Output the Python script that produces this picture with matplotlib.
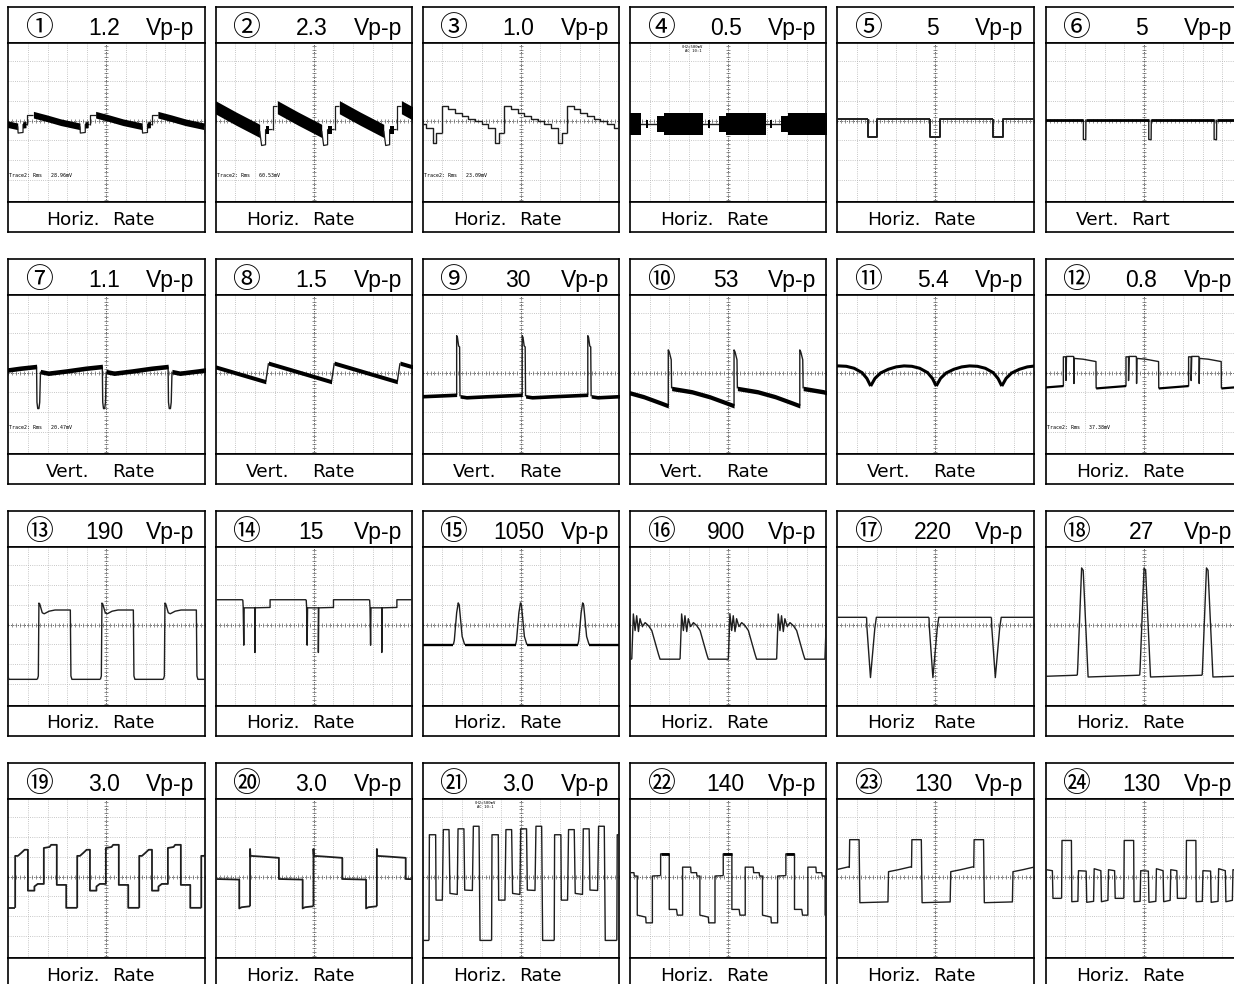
import numpy as np
import matplotlib.pyplot as plt

plt.rcParams['font.family'] = ['Liberation Sans', 'Noto Sans CJK JP', 'DejaVu Sans']

# ---- page geometry (pixels) ------------------------------------------------
FIG_W, FIG_H, DPI = 1234, 984, 100
COL_LEFT = [8.3, 215.7, 422.7, 630.0, 837.3, 1045.7]
ROW_TOP = [7, 259, 511, 763]
PANEL_W = 196.3
HEAD_H, SCOPE_H, FOOT_H = 36, 159, 30
YLIM = (-4.12, 3.93)
PX_PER_DIV = SCOPE_H / (YLIM[1] - YLIM[0])

# ---- panel captions --------------------------------------------------------
circled = ['①', '②', '③', '④', '⑤', '⑥', '⑦', '⑧', '⑨', '⑩', '⑪', '⑫',
           '⑬', '⑭', '⑮', '⑯', '⑰', '⑱', '⑲', '⑳', '㉑', '㉒', '㉓', '㉔']
vpp = ['1.2', '2.3', '1.0', '0.5', '5', '5',
       '1.1', '1.5', '30', '53', '5.4', '0.8',
       '190', '15', '1050', '900', '220', '27',
       '3.0', '3.0', '3.0', '140', '130', '130']
rate_first = ['Horiz.', 'Horiz.', 'Horiz.', 'Horiz.', 'Horiz.', 'Vert.',
              'Vert.', 'Vert.', 'Vert.', 'Vert.', 'Vert.', 'Horiz.',
              'Horiz.', 'Horiz.', 'Horiz.', 'Horiz.', 'Horiz', 'Horiz.',
              'Horiz.', 'Horiz.', 'Horiz.', 'Horiz.', 'Horiz.', 'Horiz.']
rate_second = ['Rate'] * 5 + ['Rart'] + ['Rate'] * 18
rms_notes = {0: 'Trace2: Rms   28.96mV', 1: 'Trace2: Rms   60.53mV',
             2: 'Trace2: Rms   23.09mV', 6: 'Trace2: Rms   20.47mV',
             11: 'Trace2: Rms   37.38mV'}
ch_notes = {3: 'CH2=500mV\nAC 10:1', 20: 'CH2=500mV\nAC 10:1'}

# ---- waveforms: one period each, in screen divisions -----------------------
# every stroke = (trace width pt, t within period, y); repeated every period
periods = [3.17, 3.16, 3.19, 3.17, 3.19, 3.33,
           3.35, 3.35, 3.34, 3.35, 3.34, 3.19,
           3.21, 3.23, 3.17, 2.46, 3.18, 3.18,
           3.16, 3.23, 3.19, 3.19, 3.17, 3.17]
phases = [0.97, 2.90, 0.97, 1.36, 1.55, 1.92,
          1.44, 2.55, 1.73, 1.95, 1.70, 0.90,
          1.48, 1.38, 1.56, 2.55, 1.49, 1.61,
          0.35, 1.75, 0.32, 1.56, 0.61, 0.81]

wave01 = [(0.9, [0, 0, 0.31], [-0.2, 0.31, 0.31]),
          (4.8, [0.31, 1.0, 1.7, 2.68], [0.30, 0.12, -0.08, -0.29]),
          (0.9, [2.68, 2.70, 2.95, 2.95, 3.17], [-0.29, -0.63, -0.6, -0.2, -0.2]),
          (4.5, [2.93, 3.1], [-0.22, -0.2])]
wave02 = [(0.9, [0, 0, 0.24], [-0.45, 0.76, 0.76]),
          (9.5, [0.24, 1.3, 2.5], [0.68, 0.1, -0.52]),
          (0.9, [2.5, 2.6, 2.8, 2.8, 3.16], [-0.52, -1.26, -1.22, -0.46, -0.45]),
          (6.0, [2.83, 3.0], [-0.46, -0.46])]
wave03 = [(1.0, [0, 0, 0.34, 0.34, 0.68, 0.68, 1.02, 1.02, 1.36, 1.36, 1.70, 1.70,
                 2.04, 2.04, 2.38, 2.38, 2.72, 2.72, 2.92, 2.92, 3.19],
           [-0.63, 0.76, 0.76, 0.61, 0.61, 0.39, 0.39, 0.22, 0.22, 0.10, 0.10, -0.03,
            -0.03, -0.17, -0.17, -0.37, -0.37, -1.14, -1.14, -0.63, -0.63])]
wave04 = [(1.0, [0, 3.17], [-0.17, -0.17]),
          (11.0, [0, 0.35], [-0.17, -0.17]),
          (15.5, [0.35, 2.38], [-0.17, -0.17]),
          (6.0, [2.6, 2.72], [-0.17, -0.17])]
wave05 = [(1.4, [0, 0, 0.49, 0.49, 3.19], [0.08, -0.85, -0.85, 0.08, 0.08])]
wave06 = [(1.0, [0, 0, 0.12, 0.13], [0.05, -0.95, -0.97, 0.05]),
          (2.0, [0.13, 3.33], [0.05, 0.05])]
wave07 = [(1.0, [0, 0.02, 0.06, 0.12, 0.16, 0.2], [0.31, -1.5, -1.82, -1.82, -1.5, 0.05]),
          (3.3, [0.2, 0.6, 1.5, 2.5, 3.35], [0.05, -0.03, 0.08, 0.22, 0.31])]
wave08 = [(1.0, [0, 0.14], [-0.46, 0.48]),
          (3.0, [0.14, 3.35], [0.48, -0.46])]
wave09 = [(1.0, [0, 0, 0.04, 0.1, 0.15, 0.17], [-1.12, 1.87, 1.78, 1.35, 1.3, -1.2]),
          (2.6, [0.17, 0.5, 1.5, 3.34], [-1.2, -1.25, -1.2, -1.12])]
wave10 = [(1.0, [0, 0, 0.05, 0.15, 0.17], [-1.68, 1.15, 1.05, 0.65, -0.8]),
          (3.2, [0.17, 1.2, 2.1, 2.95, 3.35], [-0.8, -0.97, -1.22, -1.53, -1.68])]
wave11 = [(2.2, [0, 0.22, 0.5, 0.9, 1.3, 1.7, 2.1, 2.5, 2.9, 3.15, 3.34],
           [-0.68, -0.29, -0.02, 0.17, 0.29, 0.34, 0.32, 0.22, 0.0, -0.3, -0.68])]
wave12 = [(1.0, [0, 0, 0.1, 0.13, 0.13, 0.16, 0.5, 0.53, 0.54, 0.56, 1.0, 1.66, 1.67],
           [-0.7, 0.8, 0.8, 0.78, -0.4, 0.82, 0.82, 0.8, -0.55, 0.72, 0.68, 0.56, -0.8]),
          (1.6, [1.67, 3.19], [-0.8, -0.68])]
wave13 = [(1.0, [0, 0.05, 0.08, 0.12, 0.25, 0.35, 0.6, 0.9, 1.68, 1.71, 1.76, 3.21],
           [-2.77, -2.6, 1.09, 1.05, 0.6, 0.55, 0.68, 0.74, 0.74, -2.6, -2.77, -2.77])]
wave14 = [(1.0, [0, 0.02, 0.05, 0.07, 0.62, 0.62, 0.64, 1.39, 1.39, 3.23],
           [1.26, 0.9, -1.04, 0.85, 0.85, -1.41, 0.85, 0.87, 1.26, 1.26])]
wave15 = [(1.0, [0, 0.05, 0.17, 0.25, 0.3, 0.45, 0.58], [-1.02, -0.8, 0.6, 1.1, 1.0, -0.6, -1.02]),
          (1.7, [0.58, 3.17], [-1.02, -1.02])]
wave16 = [(1.0, [0, 0.08, 0.17, 0.25, 0.34, 0.42, 0.54, 0.68, 0.85, 1.02, 1.19, 1.36, 1.44, 2.46],
           [-1.75, 0.54, -0.3, 0.45, -0.35, 0.3, -0.1, 0.1, -0.05, -0.3, -0.9, -1.5, -1.75, -1.75])]
wave17 = [(1.0, [0, 0.02, 0.2, 0.42, 0.5, 3.18], [0.37, -0.15, -2.68, -0.2, 0.37, 0.37])]
wave18 = [(1.0, [0, 0.02, 0.22, 0.3, 0.55, 0.6, 3.18], [-2.56, -2.2, 2.87, 2.75, -2.65, -2.65, -2.56])]
wave19 = [(1.3, [0, 0, 0.14, 0.31, 0.48, 0.65, 0.65, 0.98, 0.98, 1.15, 1.46, 1.46,
                 1.75, 1.83, 2.12, 2.12, 2.6, 2.6, 3.16],
           [-1.58, 1.05, 1.05, 1.2, 1.36, 1.36, -0.71, -0.71, -0.5, -0.37, -0.37, 1.45,
            1.5, 1.61, 1.61, -0.42, -0.42, -1.58, -1.58])]
wave20 = [(1.3, [0, 0, 0.02, 0.5, 1.47, 1.47, 2.68, 2.68, 2.8, 3.23],
           [-1.5, 1.4, 1.05, 1.02, 0.95, -0.12, -0.15, -1.61, -1.55, -1.5])]
wave21 = [(1.0, [0, 0.02, 0.34, 0.36, 0.68, 0.73, 1.02, 1.07, 1.44, 1.48, 1.78, 1.82,
                 2.21, 2.26, 2.55, 2.6, 3.19],
           [-3.23, 2.12, 2.12, -1.19, -1.19, 2.38, 2.38, -0.85, -0.9, 2.42, 2.42, -0.68,
            -0.7, 2.55, 2.55, -3.23, -3.23])]
wave22 = [(1.0, [0, 0, 0.44, 0.44, 0.81, 0.85, 1.12, 1.12, 1.53, 1.55, 1.83, 1.85,
                 2.0, 2.0, 2.43, 2.45, 2.77, 2.77, 3.19],
           [0.05, 1.15, 1.15, -1.66, -1.66, -1.95, -1.95, 0.48, 0.48, 0.2, 0.2, 0.03,
            0.03, -1.95, -2.05, -2.34, -2.34, 0.03, 0.05]),
          (2.0, [0, 0.44], [1.15, 1.15])]
wave23 = [(1.0, [0, 0.02, 0.5, 0.54, 1.97, 2.0, 2.5, 3.15, 3.17],
           [0.45, 1.87, 1.87, -1.32, -1.28, 0.25, 0.35, 0.5, 0.45])]
wave24 = [(1.0, [0, 0.02, 0.5, 0.52, 0.83, 0.86, 1.25, 1.28, 1.63, 1.66, 2.0, 2.03,
                 2.36, 2.39, 2.7, 2.73, 3.17],
           [-1.1, 1.83, 1.83, -1.27, -1.25, 0.3, 0.28, -1.3, -1.25, 0.4, 0.3, -1.27,
            -1.2, 0.35, 0.3, -1.1, -1.1])]

waves = [wave01, wave02, wave03, wave04, wave05, wave06, wave07, wave08,
         wave09, wave10, wave11, wave12, wave13, wave14, wave15, wave16,
         wave17, wave18, wave19, wave20, wave21, wave22, wave23, wave24]


def rect(left, top, h):
    return [left / FIG_W, 1 - (top + h) / FIG_H, PANEL_W / FIG_W, h / FIG_H]


def boxed(ax):
    ax.set_xticks([])
    ax.set_yticks([])
    for s in ax.spines.values():
        s.set_linewidth(1.2)
        s.set_color('black')


def draw_grid(ax):
    for x in range(1, 10):
        if x != 5:
            ax.axvline(x, color='#b5b5b5', lw=0.6, ls=(0, (1, 1.6)), zorder=1)
    for y in range(-3, 4):
        if y != 0:
            ax.axhline(y, color='#b5b5b5', lw=0.6, ls=(0, (1, 1.6)), zorder=1)
    ax.axvline(5, color='#666666', lw=0.7, ls=(0, (1.2, 1.2)), zorder=1)
    ax.axhline(0, color='#666666', lw=0.7, ls=(0, (1.2, 1.2)), zorder=1)
    ticks_x = np.arange(0, 10.01, 0.2)
    ticks_y = np.arange(-4, 4.01, 0.2)
    ax.plot(ticks_x, np.zeros_like(ticks_x), ls='none', marker='|', ms=2.2,
            mew=0.5, color='#666666', zorder=1)
    ax.plot(np.full_like(ticks_y, 5.0), ticks_y, ls='none', marker='_', ms=2.2,
            mew=0.5, color='#666666', zorder=1)


def draw_stroke(ax, lw, xs, y):
    y = np.asarray(y, dtype=float)
    if lw >= 2.5:
        # noisy trace: a band of constant vertical thickness
        half = lw * DPI / 72 / 2 / PX_PER_DIV
        ax.fill_between(xs, y - half, y + half, color='black', lw=0, zorder=3)
    else:
        ax.plot(xs, y, color='black' if lw > 1.5 else '#1e1e1e', lw=lw,
                solid_capstyle='butt', zorder=3)


fig = plt.figure(figsize=(FIG_W / DPI, FIG_H / DPI), dpi=DPI)

for i in range(24):
    r, c = divmod(i, 6)
    left, top = COL_LEFT[c], ROW_TOP[r]

    # header: number and amplitude
    head = fig.add_axes(rect(left, top, HEAD_H))
    boxed(head)
    head.text(0.155, 0.2, circled[i], fontsize=20, ha='center', va='baseline',
              family=['Noto Sans CJK JP', 'DejaVu Sans'], transform=head.transAxes)
    head.text(0.487, 0.22, vpp[i], fontsize=16.5, ha='center', va='baseline',
              transform=head.transAxes)
    head.text(0.948, 0.22, 'Vp-p', fontsize=16.5, ha='right', va='baseline',
              transform=head.transAxes)

    # scope screen
    scope = fig.add_axes(rect(left, top + HEAD_H, SCOPE_H))
    boxed(scope)
    scope.set_xlim(0, 10)
    scope.set_ylim(*YLIM)
    draw_grid(scope)
    for lw, t, y in waves[i]:
        t = np.asarray(t, dtype=float)
        for k in range(-2, 6):
            xs = t + phases[i] + k * periods[i]
            if xs[-1] < -0.5 or xs[0] > 10.5:
                continue
            draw_stroke(scope, lw, xs, y)
    if i in rms_notes:
        scope.text(0.05, -2.8, rms_notes[i], fontsize=3.6, family='DejaVu Sans Mono',
                   va='center', ha='left', zorder=4)
    if i in ch_notes:
        scope.text(3.2, 3.85, ch_notes[i], fontsize=2.8, family='DejaVu Sans Mono',
                   va='top', ha='center', linespacing=1.3, zorder=4)

    # footer: scan rate label
    foot = fig.add_axes(rect(left, top + HEAD_H + SCOPE_H, FOOT_H))
    boxed(foot)
    x1 = 38 if c == 0 else 30
    x2 = x1 + (55 if i == 5 else 66)
    foot.text(x1 / PANEL_W, 0.25, rate_first[i], fontsize=13.3, family='DejaVu Sans',
              ha='left', va='baseline', transform=foot.transAxes)
    foot.text(x2 / PANEL_W, 0.25, rate_second[i], fontsize=13.3, family='DejaVu Sans',
              ha='left', va='baseline', transform=foot.transAxes)

fig.savefig('out.png', dpi=DPI)
